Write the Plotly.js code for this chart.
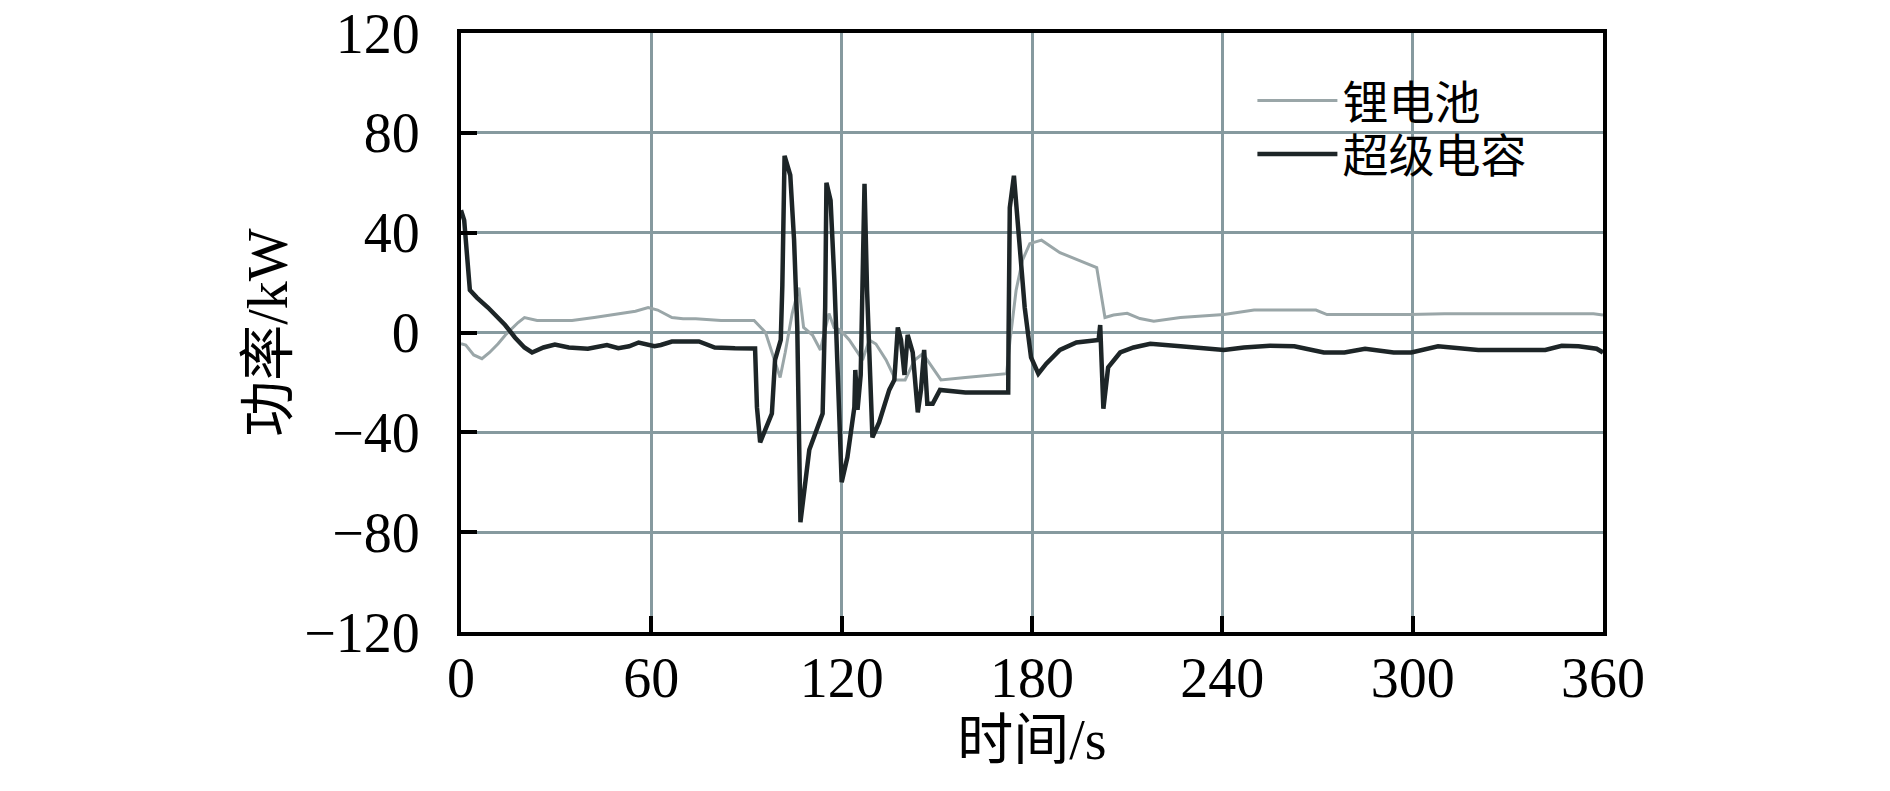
<!DOCTYPE html>
<html>
<head>
<meta charset="utf-8">
<script src="https://cdn.plot.ly/plotly-3.0.1.min.js"></script>
<style>
  html, body { margin: 0; padding: 0; background: #fff; }
  #chartPotencia { width: 1890px; height: 791px; }
</style>
</head>
<body>
<div id="chartPotencia"></div>
<script>
// Lithium battery power (kW) vs time (s)
const timeLi = [0, 1.5, 4, 6.6, 9, 11.7, 14, 16, 18, 20, 24, 30, 35, 42, 47, 50.8, 55, 59, 62, 66.5,
    70, 74, 78, 82, 86.4, 92.4, 96, 98.6, 100.6, 102.2, 104.4, 106.5, 108, 110.8, 113.3, 114, 116, 117.6,
    119.6, 122.4, 124.4, 126.6, 128.7, 130.8, 134, 137, 140, 143, 145.6, 148.7, 151.3, 159, 167.7, 172,
    173, 175, 177, 179.3, 183, 188.8, 195, 200.4, 203, 205.7, 210, 214, 218.4, 226.8, 240.5, 250, 269.5,
    273, 299, 310, 357, 360];
const powerLi = [-4.5, -5, -9, -10.5, -8, -4.5, -1, 1.5, 4, 6, 4.8, 4.8, 4.8, 6, 7, 7.6, 8.5, 10, 9, 6,
    5.5, 5.5, 5, 4.8, 4.8, 4.8, 0, -10, -18, -8, 7.6, 18, 2, -1, -7, -3, 7.6, 2,
    1, -3, -7, -11, -3, -4.6, -11, -19, -19, -11, -8.5, -14, -19, -18, -17, -16.5,
    -4, 17, 29, 35.6, 37, 32, 28.8, 26, 6, 7, 7.7, 5.6, 4.5, 6, 7.2, 9, 9,
    7.2, 7.2, 7.5, 7.5, 7];

// Supercapacitor power (kW) vs time (s)
const timeSc = [0, 1, 2.8, 5, 8.5, 11, 13.9, 17, 20, 22.4, 26, 29.6, 34, 40, 44, 46, 49.6, 53, 56, 61,
    63, 66.5, 75, 78, 80, 86.4, 92.7, 93.3, 94.3, 98, 99, 100.8, 101.3, 102, 103.8, 105, 106, 107,
    109.8, 114, 114.8, 115.2, 116.5, 117.7, 119, 120, 121.8, 124, 124.3, 125, 126, 126.6, 127.2, 128,
    129.7, 131.8, 135, 136.6, 137.7, 138.7, 139.8, 140.8, 142.4, 144, 145, 146, 147, 148.7, 151, 159,
    167.7, 172.5, 172.6, 173, 174.3, 175.6, 177.7, 179.7, 182, 184.5, 188.8, 194, 201, 201.5, 202.5,
    204, 207.8, 212, 217.3, 226.8, 240.5, 246.8, 255, 262.7, 268, 272, 278.5, 285, 294, 299.6, 308,
    315, 320.7, 330, 341.8, 347, 352.3, 358, 360];
const powerSc = [49, 45, 17, 14, 10, 7, 3, -2, -6, -8, -6, -4.8, -6, -6.5, -5.5, -5, -6.3, -5.5, -4, -5.5,
    -5, -3.6, -3.6, -5, -6, -6.3, -6.4, -30, -44, -32.5, -11, -3, 19, 70.8, 63, 37, 2, -76,
    -47, -32.5, 10, 60, 53, 21, -30, -60, -50, -30, -15, -31, -17, 17, 59.6, 17,
    -42, -36, -23, -19, 2, -3, -17, -1, -8, -32, -23, -7, -28.5, -28.5, -23, -24,
    -24, -24, -3, 50, 62.8, 43.6, 10, -10, -16.5, -12.5, -7, -4, -3, 3, -30.5,
    -14, -8, -6, -4.5, -5.5, -7, -6, -5.3, -5.5, -7, -8, -8, -6.5, -8, -8, -5.5,
    -6.5, -7, -7, -7, -5.3, -5.5, -6.5, -8];

const seriesNames = ['锂电池', '超级电容'];
const xTicks = [0, 60, 120, 180, 240, 300, 360];
const yTicks = [-120, -80, -40, 0, 40, 80, 120];

const FONT = 'Liberation Serif, "Noto Sans CJK SC", serif';

// Lithium battery (light gray line)
const traceLi = {
    x: timeLi,
    y: powerLi,
    mode: 'lines',
    type: 'scatter',
    line: { color: '#9aa6a8', width: 3 },
    name: seriesNames[0],
    legend: 'legend'
};

// Supercapacitor (dark line)
const traceSc = {
    x: timeSc,
    y: powerSc,
    mode: 'lines',
    type: 'scatter',
    line: { color: '#1d2527', width: 4.5 },
    name: seriesNames[1],
    legend: 'legend2'
};

const axisCommon = {
    showline: true,
    mirror: true,
    linecolor: '#000',
    linewidth: 4,
    showgrid: true,
    gridcolor: '#869a9f',
    gridwidth: 3,
    zeroline: false,
    ticks: 'inside',
    ticklen: 16,
    tickwidth: 4,
    tickcolor: '#000',
    tickfont: { family: FONT, size: 56, color: '#000' }
};

// legends are see-through; a white box below the traces hides the grid behind them
const legendCommon = {
    bgcolor: 'rgba(0,0,0,0)',
    borderwidth: 0,
    xanchor: 'left',
    yanchor: 'middle',
    itemwidth: 80,
    font: { family: FONT, size: 46, color: '#000' }
};

const layout = {
    width: 1890,
    height: 791,
    margin: { l: 461, r: 287, t: 33, b: 159 },
    paper_bgcolor: '#fff',
    plot_bgcolor: '#fff',
    font: { family: FONT, color: '#000' },
    xaxis: Object.assign({}, axisCommon, {
        range: [0, 360],
        tickvals: xTicks,
        ticklabelstandoff: -6,
        title: { text: '时间/s', font: { family: FONT, size: 56 }, standoff: 12 }
    }),
    yaxis: Object.assign({}, axisCommon, {
        range: [-120, 120],
        tickvals: yTicks,
        ticklabelstandoff: 26,
        title: { text: '功率/kW', font: { family: FONT, size: 56 }, standoff: 0 }
    }),
    showlegend: true,
    legend: Object.assign({}, legendCommon, { x: 0.693, y: 0.887 }),
    legend2: Object.assign({}, legendCommon, { x: 0.693, y: 0.798 }),
    shapes: [{
        type: 'rect',
        xref: 'paper', yref: 'paper',
        x0: 0.68, x1: 0.988, y0: 0.726, y1: 0.952,
        fillcolor: '#fff',
        line: { width: 0 },
        layer: 'between'
    }]
};

Plotly.newPlot('chartPotencia', [traceLi, traceSc], layout, { staticPlot: true });
</script>
</body>
</html>
